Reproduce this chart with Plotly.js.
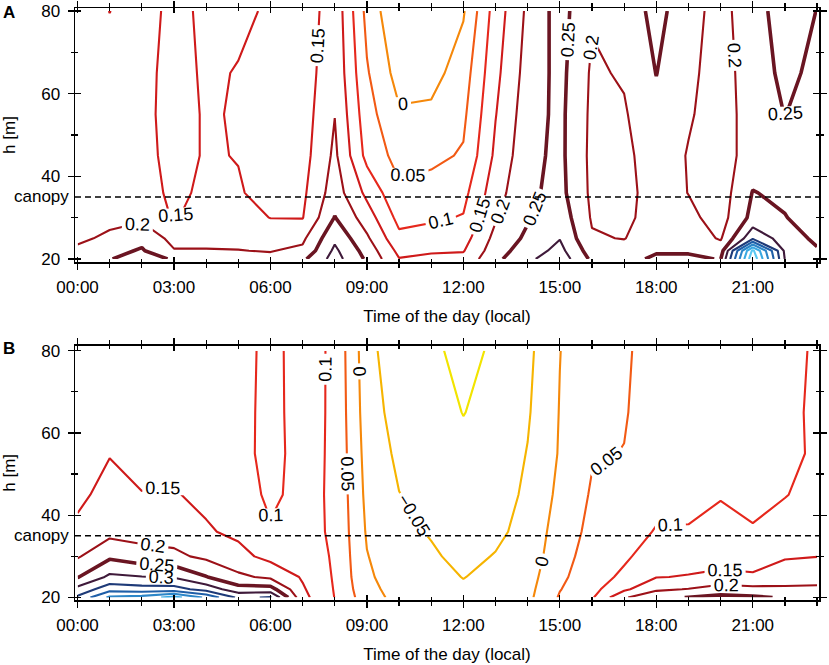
<!DOCTYPE html>
<html>
<head>
<meta charset="utf-8">
<script src="https://cdn.plot.ly/plotly-3.0.1.min.js"></script>
<style>html,body{margin:0;padding:0;background:#fff;}#chart{width:829px;height:665px;}</style>
</head>
<body>
<div id="chart"></div>
<script>
// ---------- data ----------
const hours = [0,1,2,3,4,5,6,7,8,9,10,11,12,13,14,15,16,17,18,19,20,21,22,23];
const heights = [20,22,25,30,36,45,55,65,80];
const canopyHeight = 35;

// Panel A (values per height row, hours 0..23)
const a20 = [0.22,0.248,0.27,0.245,0.215,0.21,0.21,0.24,0.32,0.242,0.152,0.16,0.165,0.238,0.29,0.33,0.24,0.235,0.258,0.258,0.248,0.59,0.298,0.27];
const a22 = [0.21,0.235,0.255,0.203,0.202,0.201,0.198,0.21,0.31,0.23,0.137,0.145,0.147,0.228,0.275,0.315,0.225,0.222,0.245,0.245,0.225,0.56,0.29,0.255];
const a25 = [0.19,0.21,0.235,0.185,0.19,0.19,0.18,0.19,0.29,0.208,0.112,0.12,0.13,0.215,0.26,0.298,0.205,0.198,0.235,0.228,0.195,0.34,0.275,0.24];
const a30 = [0.18,0.185,0.19,0.145,0.175,0.17,0.149,0.148,0.252,0.175,0.085,0.093,0.103,0.195,0.245,0.28,0.195,0.185,0.228,0.212,0.18,0.265,0.252,0.228];
const a36 = [0.175,0.175,0.18,0.135,0.163,0.155,0.13,0.14,0.225,0.138,0.06,0.07,0.085,0.18,0.24,0.265,0.19,0.182,0.225,0.199,0.175,0.252,0.24,0.222];
const a45 = [0.17,0.17,0.17,0.13,0.155,0.148,0.125,0.13,0.21,0.085,0.032,0.038,0.055,0.16,0.235,0.262,0.188,0.187,0.228,0.197,0.175,0.225,0.243,0.222];
const a55 = [0.17,0.17,0.165,0.13,0.155,0.146,0.125,0.125,0.199,0.07,0.006,0.01,0.04,0.148,0.228,0.262,0.19,0.195,0.238,0.205,0.178,0.222,0.251,0.228];
const a65 = [0.17,0.165,0.163,0.135,0.156,0.148,0.13,0.12,0.19,0.055,-0.02,-0.018,0.025,0.137,0.22,0.265,0.193,0.205,0.251,0.21,0.18,0.224,0.262,0.238];
const a80 = [0.17,0.1495,0.165,0.14,0.157,0.158,0.145,0.11,0.186,0.035,-0.048,-0.045,-0.005,0.123,0.21,0.27,0.205,0.215,0.268,0.215,0.185,0.228,0.275,0.249];

// Panel B
const b20 = [0.36,0.46,0.47,0.52,0.44,0.34,0.355,0.165,0.099,0.022,-0.016,-0.03,-0.04,-0.03,-0.012,0.055,0.094,0.195,0.235,0.252,0.262,0.258,0.245,0.225];
const b22 = [0.315,0.38,0.37,0.37,0.33,0.27,0.27,0.156,0.097,0.015,-0.02,-0.033,-0.045,-0.035,-0.015,0.048,0.085,0.14,0.192,0.202,0.225,0.215,0.208,0.205];
const b25 = [0.247,0.31,0.302,0.295,0.252,0.21,0.19,0.145,0.095,0.008,-0.025,-0.038,-0.051,-0.04,-0.02,0.04,0.078,0.11,0.148,0.153,0.157,0.155,0.178,0.19];
const b30 = [0.195,0.24,0.22,0.21,0.19,0.165,0.135,0.128,0.094,0.002,-0.032,-0.045,-0.06,-0.048,-0.03,0.032,0.07,0.092,0.125,0.128,0.138,0.133,0.145,0.149];
const b36 = [0.16,0.185,0.18,0.18,0.155,0.14,0.105,0.116,0.093,-0.005,-0.04,-0.053,-0.07,-0.058,-0.0375,0.025,0.062,0.08,0.103,0.103,0.115,0.103,0.12,0.13];
const b45 = [0.14,0.165,0.151,0.153,0.14,0.125,0.09,0.116,0.092,-0.012,-0.049,-0.065,-0.08,-0.07,-0.042,0.012,0.055,0.065,0.085,0.088,0.097,0.09,0.098,0.115];
const b55 = [0.135,0.148,0.14,0.14,0.135,0.118,0.083,0.12,0.091,-0.018,-0.06,-0.075,-0.09,-0.08,-0.048,0.004,0.046,0.051,0.075,0.078,0.085,0.083,0.095,0.103];
const b65 = [0.13,0.138,0.135,0.135,0.13,0.12,0.082,0.124,0.09,-0.024,-0.072,-0.083,-0.101,-0.087,-0.055,0.002,0.04,0.047,0.07,0.073,0.078,0.078,0.093,0.105];
const b80 = [0.13,0.132,0.13,0.13,0.13,0.125,0.081,0.127,0.089,-0.03,-0.09,-0.09,-0.115,-0.092,-0.062,-0.001,0.035,0.045,0.065,0.07,0.075,0.078,0.093,0.103];

const levels      = [-0.1, -0.05, 0, 0.05, 0.1, 0.15, 0.2, 0.25, 0.3, 0.35, 0.4, 0.45, 0.5, 0.55];
const levelColors = ['#f2e400','#f6b400','#f5880a','#f25a14','#e6281c','#cf1a1a','#9c1118','#6a1522','#3f1a3a','#1e3a78','#1f5fa8','#2c86c8','#3aa9e2','#5cc8f2'];
const labelledMax = 0.3;

const xAxisTitle = 'Time of the day (local)';
const yAxisTitle = 'h [m]';
const panelLetters = ['A','B'];

// ---------- build ----------
const zA = [a20,a22,a25,a30,a36,a45,a55,a65,a80];
const zB = [b20,b22,b25,b30,b36,b45,b55,b65,b80];

function stamp(h) {
  const d = new Date(Date.UTC(2000,0,1) + h*3600000);
  return d.toISOString().replace('T',' ').replace('Z','');
}
const xStamps = hours.map(stamp);
const xRange = [stamp(-0.078), stamp(23.06)];
const FONT = 'Liberation Sans, Arial, sans-serif';

const traces = [];
function addPanel(z, xa, ya) {
  levels.forEach((lv, i) => {
    traces.push({
      type: 'contour', x: xStamps, y: heights, z: z,
      xaxis: xa, yaxis: ya,
      autocontour: false,
      contours: { start: lv, end: lv, size: 0.05, coloring: 'none',
        showlabels: lv <= labelledMax + 1e-9,
        labelformat: '.2~f',
        labelfont: { family: FONT, size: 18, color: '#000' } },
      line: { color: levelColors[i], width: Math.abs(lv-0.25) < 1e-9 ? 3.6 : 2.1, smoothing: 0 },
      showscale: false, hoverinfo: 'skip'
    });
  });
}
addPanel(zA, 'x', 'y');
addPanel(zB, 'x2', 'y2');
// overlay subplots that only carry the inner halves of the crossing tick marks
traces.push({type:'scatter', x:[], y:[], xaxis:'x3', yaxis:'y3', showlegend:false, hoverinfo:'skip'});
traces.push({type:'scatter', x:[], y:[], xaxis:'x4', yaxis:'y4', showlegend:false, hoverinfo:'skip'});

const xDom = [75/829, 819/829];
const domA = [(665-262)/665, (665-8)/665];
const domB = [(665-600)/665, (665-345.7)/665];
const yRangeA = [19.27, 80.73];
const yRangeB = [19.4, 81.2];

function xBase(anchor, dom) {
  return {
    type: 'date', domain: xDom, anchor: anchor, range: xRange,
    tick0: stamp(0), dtick: 3*3600000, tickformat: '%H:%M',
    ticks: 'outside', ticklen: 6, tickwidth: 1.3, tickcolor: '#000',
    minor: { dtick: 3600000, ticks: 'outside', ticklen: 4, tickwidth: 1.2, tickcolor: '#000' },
    showline: true, linewidth: 1.5, linecolor: '#000', mirror: 'ticks',
    showgrid: false, zeroline: false,
    tickfont: { family: FONT, size: 17, color: '#000' },
    ticklabelstandoff: 3,
    title: { text: xAxisTitle, font: { family: FONT, size: 17, color: '#000' }, standoff: 14 }
  };
}
function xInner(anchor, over) {
  return {
    type: 'date', domain: xDom, anchor: anchor, overlaying: over, range: xRange,
    tick0: stamp(0), dtick: 3*3600000,
    ticks: 'inside', ticklen: 5, tickwidth: 1.3, tickcolor: '#000',
    minor: { dtick: 3600000, ticks: 'inside', ticklen: 3, tickwidth: 1.2, tickcolor: '#000' },
    showline: true, linewidth: 1.5, linecolor: '#000', mirror: 'ticks',
    showticklabels: false, showgrid: false, zeroline: false
  };
}
function yBase(anchor, dom, rng) {
  return {
    domain: dom, anchor: anchor, range: rng,
    tick0: 20, dtick: 20,
    ticks: 'outside', ticklen: 6, tickwidth: 1.3, tickcolor: '#000',
    minor: { dtick: 10, ticks: 'outside', ticklen: 3, tickwidth: 1.2, tickcolor: '#000' },
    showline: true, linewidth: 1.5, linecolor: '#000', mirror: 'ticks',
    showgrid: false, zeroline: false,
    tickfont: { family: FONT, size: 17, color: '#000' },
    ticklabelstandoff: 4,
    title: { text: yAxisTitle, font: { family: FONT, size: 17, color: '#000' }, standoff: 24 }
  };
}
function yInner(anchor, over, dom, rng) {
  return {
    domain: dom, anchor: anchor, overlaying: over, range: rng,
    tick0: 20, dtick: 20,
    ticks: 'inside', ticklen: 6, tickwidth: 1.3, tickcolor: '#000',
    minor: { dtick: 10, ticks: 'inside', ticklen: 3, tickwidth: 1.2, tickcolor: '#000' },
    showline: true, linewidth: 1.5, linecolor: '#000', mirror: 'ticks',
    showticklabels: false, showgrid: false, zeroline: false
  };
}

const layout = {
  width: 829, height: 665,
  margin: { l: 0, r: 0, t: 0, b: 0 },
  paper_bgcolor: '#fff', plot_bgcolor: '#fff',
  font: { family: FONT, size: 17, color: '#000' },
  showlegend: false,
  xaxis: xBase('y', domA), yaxis: yBase('x', domA, yRangeA),
  xaxis2: xBase('y2', domB), yaxis2: yBase('x2', domB, yRangeB),
  xaxis3: xInner('y3', 'x'), yaxis3: yInner('x3', 'y', domA, yRangeA),
  xaxis4: xInner('y4', 'x2'), yaxis4: yInner('x4', 'y2', domB, yRangeB),
  shapes: [
    { type: 'line', xref: 'x domain', yref: 'y', x0: 0, x1: 1, y0: canopyHeight, y1: canopyHeight,
      line: { color: '#000', width: 1.4, dash: '6px,4px' } },
    { type: 'line', xref: 'x2 domain', yref: 'y2', x0: 0, x1: 1, y0: canopyHeight, y1: canopyHeight,
      line: { color: '#000', width: 1.4, dash: '6px,4px' } }
  ],
  annotations: [
    { text: 'canopy', xref: 'paper', yref: 'y', x: 71/829, y: canopyHeight, xanchor: 'right', yanchor: 'middle',
      showarrow: false, font: { family: FONT, size: 17, color: '#000' } },
    { text: 'canopy', xref: 'paper', yref: 'y2', x: 71/829, y: canopyHeight, xanchor: 'right', yanchor: 'middle',
      showarrow: false, font: { family: FONT, size: 17, color: '#000' } },
    { text: '<b>' + panelLetters[0] + '</b>', xref: 'paper', yref: 'paper', x: 9/829, y: 1 - 13/665,
      xanchor: 'center', yanchor: 'middle', showarrow: false, font: { family: FONT, size: 17, color: '#000' } },
    { text: '<b>' + panelLetters[1] + '</b>', xref: 'paper', yref: 'paper', x: 9/829, y: 1 - 348/665,
      xanchor: 'center', yanchor: 'middle', showarrow: false, font: { family: FONT, size: 17, color: '#000' } }
  ]
};

Plotly.newPlot('chart', traces, layout, { staticPlot: true, displayModeBar: false });
</script>
</body>
</html>
